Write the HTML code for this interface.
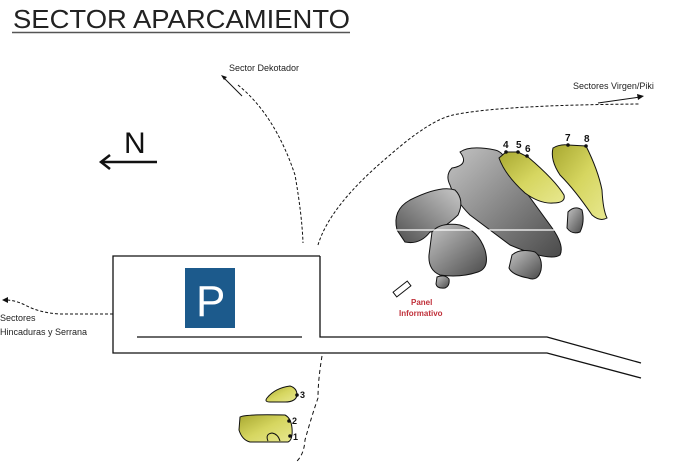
<!DOCTYPE html>
<html><head><meta charset="utf-8"><style>
html,body{margin:0;padding:0;background:#fff;}
svg{display:block;font-family:"Liberation Sans",sans-serif;}
</style></head><body>
<svg width="680" height="474" viewBox="0 0 680 474" xmlns="http://www.w3.org/2000/svg">
<defs>
<linearGradient id="g" x1="0" y1="0" x2="1" y2="1"><stop offset="0" stop-color="#c4c4c4"/><stop offset="1" stop-color="#4a4a4a"/></linearGradient>
<linearGradient id="g2" x1="1" y1="0" x2="0" y2="1"><stop offset="0" stop-color="#c8c8c8"/><stop offset="1" stop-color="#505050"/></linearGradient>
<linearGradient id="y" x1="0" y1="0" x2="1" y2="1"><stop offset="0" stop-color="#a8a830"/><stop offset="0.5" stop-color="#d6d660"/><stop offset="1" stop-color="#e8e890"/></linearGradient>
</defs>
<text x="13" y="28" font-size="26" textLength="337" lengthAdjust="spacingAndGlyphs" fill="#222">SECTOR APARCAMIENTO</text>
<line x1="12" y1="32.5" x2="350" y2="32.5" stroke="#555" stroke-width="1.5"/>
<text x="124" y="153" font-size="30" fill="#111">N</text>
<line x1="103" y1="162" x2="157" y2="162" stroke="#111" stroke-width="2.5"/>
<path d="M110,155 L101,162 L110,169" fill="none" stroke="#111" stroke-width="2.5"/>
<text x="229" y="71" font-size="9" fill="#222">Sector Dekotador</text>
<line x1="242" y1="96" x2="223" y2="77" stroke="#111" stroke-width="1"/>
<path d="M221,75 L227,77 L224,80Z" fill="#111"/>
<path d="M238,85 Q275,115 295,175 Q302,215 303,243" fill="none" stroke="#111" stroke-width="1" stroke-dasharray="3,2"/>
<path d="M318,245 Q330,205 390,155 Q430,120 453,115 Q500,105 640,104" fill="none" stroke="#111" stroke-width="1" stroke-dasharray="3,2"/>
<line x1="598" y1="103" x2="640" y2="97" stroke="#111" stroke-width="1"/>
<path d="M644,96 L637,94 L638,100Z" fill="#111"/>
<text x="573" y="89" font-size="9" fill="#222">Sectores Virgen/Piki</text>
<path d="M113,314 L60,314 Q40,313 25,305 Q15,300 5,300" fill="none" stroke="#111" stroke-width="1" stroke-dasharray="3,2"/>
<path d="M2,300 L8,297 L8,303Z" fill="#111"/>
<text x="0" y="321" font-size="9" fill="#222">Sectores</text>
<text x="0" y="335" font-size="9" fill="#222">Hincaduras y Serrana</text>
<path d="M322,356 Q318,380 318,398 Q312,415 305,440 Q304,455 296,462" fill="none" stroke="#111" stroke-width="1" stroke-dasharray="4,3"/>
<path d="M320,256 L113,256 L113,353 L547,353 L641,378" fill="none" stroke="#111" stroke-width="1.3"/>
<path d="M320,256 L320,337 L547,337 L641,363" fill="none" stroke="#111" stroke-width="1.3"/>
<line x1="137" y1="337" x2="302" y2="337" stroke="#111" stroke-width="1.3"/>
<rect x="185" y="268" width="50" height="60" fill="#1c5a8c"/>
<text x="196" y="316" font-size="44" fill="#fff">P</text>
<path d="M460,152 Q470,145 495,150 Q505,152 510,170 L550,225 Q565,245 560,255 Q550,262 510,245 L470,215 Q455,200 450,185 Q445,175 452,168 Q470,165 460,152Z" fill="url(#g)" stroke="#111" stroke-width="1"/>
<path d="M397,230 Q392,210 410,200 Q440,185 455,190 Q465,200 458,215 Q440,232 430,232 Q420,245 405,242Z" fill="url(#g2)" stroke="#111" stroke-width="1"/>
<path d="M432,232 Q440,222 460,225 Q478,230 485,250 Q490,268 478,272 Q460,278 440,275 Q428,270 429,255Z" fill="url(#g)" stroke="#111" stroke-width="1"/>
<path d="M437,277 Q445,274 449,279 Q450,286 445,288 Q437,289 436,284Z" fill="url(#g)" stroke="#111" stroke-width="1"/>
<path d="M512,255 Q520,248 535,252 Q543,258 541,270 Q538,282 528,278 Q512,275 509,268Z" fill="url(#g)" stroke="#111" stroke-width="1"/>
<path d="M568,212 Q575,205 582,210 Q585,222 580,232 Q572,235 567,228Z" fill="url(#g)" stroke="#111" stroke-width="1"/>
<path d="M499,158 L506,152 L518,152 L528,157 Q555,180 564,195 Q566,203 553,203 Q540,204 525,193 Q505,175 499,158Z" fill="url(#y)" stroke="#111" stroke-width="1"/>
<path d="M553,148 Q560,144 568,145 L586,146 Q598,170 602,190 Q603,210 607,218 Q600,222 592,215 Q575,190 560,175 Q550,160 553,148Z" fill="url(#y)" stroke="#111" stroke-width="1"/>
<line x1="395" y1="230" x2="565" y2="230" stroke="#fff" stroke-width="1.2"/>
<g fill="#111"><circle cx="506" cy="152" r="1.8"/><circle cx="518" cy="152" r="1.8"/><circle cx="527" cy="156" r="1.8"/><circle cx="568" cy="145" r="1.8"/><circle cx="586" cy="146" r="1.8"/></g>
<g font-size="10" font-weight="bold" fill="#111"><text x="503" y="148">4</text><text x="516" y="148">5</text><text x="525" y="152">6</text><text x="565" y="141">7</text><text x="584" y="142">8</text></g>
<rect x="393" y="286" width="18" height="6" fill="#fff" stroke="#111" stroke-width="1" transform="rotate(-38 402 289)"/>
<text x="411" y="305" font-size="8" font-weight="bold" fill="#c0303a">Panel</text>
<text x="399" y="316" font-size="8" font-weight="bold" fill="#c0303a">Informativo</text>
<path d="M267,398 Q275,388 290,386 Q297,388 297,395 Q296,402 285,402 L270,402 Q264,402 267,398Z" fill="url(#y)" stroke="#111" stroke-width="1"/>
<path d="M240,417 Q245,414 285,415 Q291,418 292,428 Q293,440 288,442 L250,442 Q242,440 239,430Z" fill="url(#y)" stroke="#111" stroke-width="1"/>
<path d="M268,441 Q265,434 272,433 Q278,434 280,441" fill="none" stroke="#111" stroke-width="1"/>
<g fill="#111"><circle cx="297" cy="395" r="1.8"/><circle cx="289" cy="421" r="1.8"/><circle cx="290" cy="436" r="1.8"/></g>
<g font-size="9" font-weight="bold" fill="#111"><text x="300" y="398">3</text><text x="292" y="424">2</text><text x="293" y="440">1</text></g>
</svg>
</body></html>
